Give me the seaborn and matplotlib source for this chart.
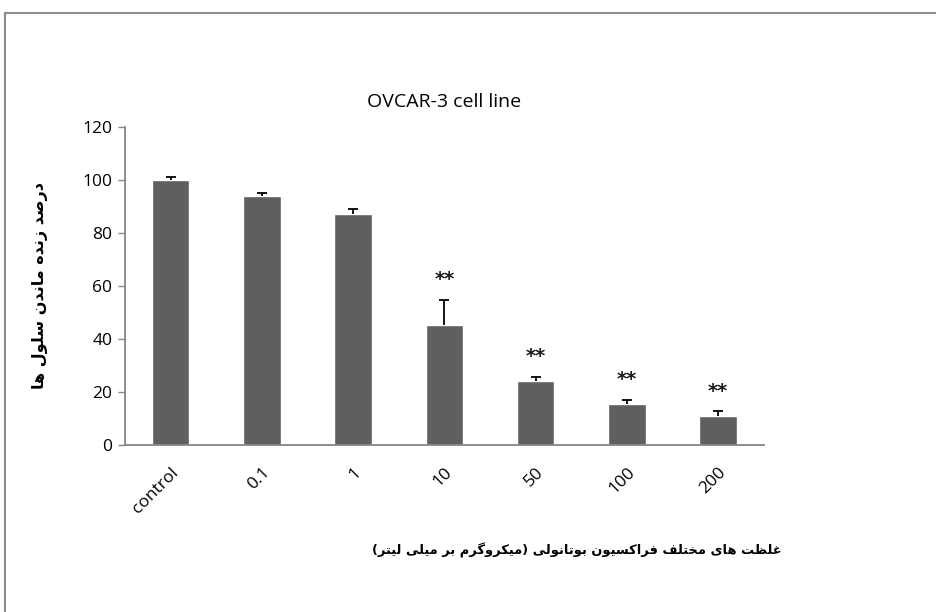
import matplotlib
matplotlib.use("Agg")
import matplotlib.pyplot as plt
from matplotlib.lines import Line2D
import seaborn as sns
import pandas as pd
import numpy as np

# --- data ---
concentrations = ["control", "0.1", "1", "10", "50", "100", "200"]
viability = [100.0, 93.7, 87.2, 45.3, 24.0, 15.3, 11.1]
viability_err = [1.0, 1.2, 1.7, 9.5, 1.7, 1.7, 1.6]
significance = ["", "", "", "**", "**", "**", "**"]
y_ticks = [0, 20, 40, 60, 80, 100, 120]

title_text = "OVCAR-3 cell line"
ylabel_text = "درصد زنده ماندن سلول ها"
xlabel_text = "غلظت های مختلف فراکسیون بوتانولی (میکروگرم بر میلی لیتر)"

# --- tiny Persian shaper: matplotlib does no Arabic shaping or bidi ---
# letter: (isolated, final, initial, medial)
FORMS = {
    "ا": ("\uFE8D", "\uFE8E", None, None),
    "ب": ("\uFE8F", "\uFE90", "\uFE91", "\uFE92"),
    "ت": ("\uFE95", "\uFE96", "\uFE97", "\uFE98"),
    "خ": ("\uFEA5", "\uFEA6", "\uFEA7", "\uFEA8"),
    "د": ("\uFEA9", "\uFEAA", None, None),
    "ر": ("\uFEAD", "\uFEAE", None, None),
    "ز": ("\uFEAF", "\uFEB0", None, None),
    "س": ("\uFEB1", "\uFEB2", "\uFEB3", "\uFEB4"),
    "ص": ("\uFEB9", "\uFEBA", "\uFEBB", "\uFEBC"),
    "ظ": ("\uFEC5", "\uFEC6", "\uFEC7", "\uFEC8"),
    "غ": ("\uFECD", "\uFECE", "\uFECF", "\uFED0"),
    "ف": ("\uFED1", "\uFED2", "\uFED3", "\uFED4"),
    "ل": ("\uFEDD", "\uFEDE", "\uFEDF", "\uFEE0"),
    "م": ("\uFEE1", "\uFEE2", "\uFEE3", "\uFEE4"),
    "ن": ("\uFEE5", "\uFEE6", "\uFEE7", "\uFEE8"),
    "ه": ("\uFEE9", "\uFEEA", "\uFEEB", "\uFEEC"),
    "و": ("\uFEED", "\uFEEE", None, None),
    "ی": ("\uFBFC", "\uFBFD", "\uFBFE", "\uFBFF"),
    "ک": ("\uFB8E", "\uFB8F", "\uFB90", "\uFB91"),
    "گ": ("\uFB92", "\uFB93", "\uFB94", "\uFB95"),
}


def persian(text):
    out = []
    for i, ch in enumerate(text):
        if ch not in FORMS:
            out.append(ch)
            continue
        iso, fin, ini, med = FORMS[ch]
        prev = text[i - 1] if i > 0 else ""
        nxt = text[i + 1] if i + 1 < len(text) else ""
        join_prev = prev in FORMS and FORMS[prev][2] is not None
        join_next = ini is not None and nxt in FORMS
        if join_prev and join_next:
            out.append(med)
        elif join_prev:
            out.append(fin)
        elif join_next:
            out.append(ini)
        else:
            out.append(iso)
    visual = "".join(reversed(out))
    return visual.translate(str.maketrans("()", ")("))


# --- style ---
sns.set_style("white")
plt.rcParams["font.family"] = ["Open Sans", "DejaVu Sans"]
plt.rcParams["text.color"] = "black"
plt.rcParams["xtick.color"] = "black"
plt.rcParams["ytick.color"] = "black"
axis_grey = "#868686"
bar_grey = "#5f5f5f"

df = pd.DataFrame({"conc": concentrations, "viability": viability})

fig = plt.figure(figsize=(9.36, 6.12), dpi=100)
ax = fig.add_axes([0.1335, 0.2729, 0.6825, 0.5204])

sns.barplot(data=df, x="conc", y="viability", order=concentrations,
            color=bar_grey, saturation=1, width=0.41, errorbar=None, ax=ax)

# upper-only error bars, as in the reference
xpos = np.arange(len(concentrations))
_, caps, _ = ax.errorbar(xpos, viability,
                         yerr=[np.zeros(len(viability)), viability_err],
                         fmt="none", ecolor="black", elinewidth=1.3,
                         capsize=3.5, capthick=1.3)
for cap in caps:
    if np.allclose(cap.get_ydata(), viability):
        cap.set_visible(False)

for x, v, e, s in zip(xpos, viability, viability_err, significance):
    if s:
        ax.text(x, v + e + 7.5, s, ha="center", va="center", fontsize=14,
                fontweight="bold", color="#1a1a1a", family="DejaVu Sans")

ax.set_ylim(0, 120)
ax.set_xlim(-0.5, len(concentrations) - 0.5)
ax.set_yticks(y_ticks)
ax.tick_params(axis="y", length=5, width=1, color=axis_grey, labelsize=12.5,
               labelcolor="black", pad=4, direction="out", left=True)
ax.tick_params(axis="x", length=0, labelsize=12.5, labelcolor="black", pad=14)
ax.set_xticks(xpos)
ax.set_xticklabels(concentrations, rotation=45, ha="right",
                   rotation_mode="anchor")
for sp in ["top", "right"]:
    ax.spines[sp].set_visible(False)
for sp in ["left", "bottom"]:
    ax.spines[sp].set_color(axis_grey)
    ax.spines[sp].set_linewidth(1.3)

ax.set_xlabel("")
ax.set_ylabel("")
ax.set_title(title_text, fontsize=14, pad=14, color="black")

fig.text(0.043, 0.533, persian(ylabel_text), rotation=90, ha="center",
         va="center", fontsize=11.5, fontweight="bold", family="DejaVu Sans")
fig.text(0.616, 0.1, persian(xlabel_text), ha="center", va="center",
         fontsize=9.4, fontweight="bold", family="DejaVu Sans")

# chart frame (cut off at the right and bottom like the reference)
fx0 = 4.5 / 936
fy0 = 1 - 12.5 / 612
fig.add_artist(Line2D([fx0, fx0], [-0.01, fy0], transform=fig.transFigure,
                      color="#8c8c8c", lw=1.5))
fig.add_artist(Line2D([fx0, 1.01], [fy0, fy0], transform=fig.transFigure,
                      color="#8c8c8c", lw=1.5))

fig.savefig("out.png", dpi=100)
